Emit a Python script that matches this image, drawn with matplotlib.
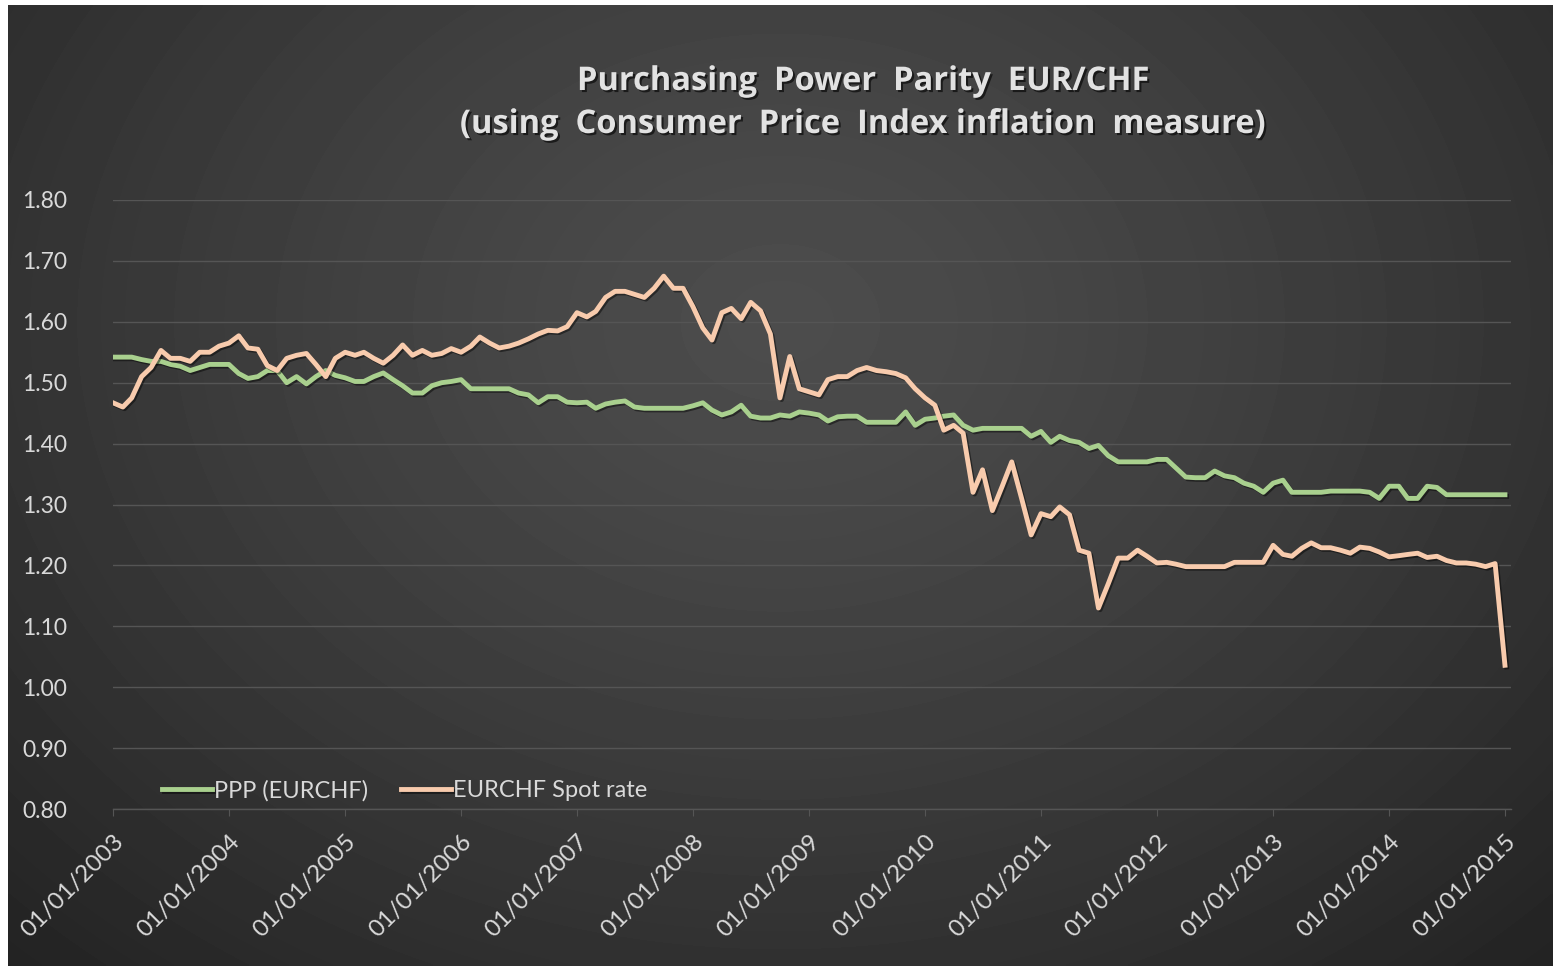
import matplotlib
matplotlib.use("Agg")
import matplotlib.pyplot as plt
import matplotlib.patheffects as pe
import matplotlib.dates as mdates
import numpy as np
import pandas as pd

# monthly values, 01/2003 .. 01/2015
ppp = [
    1.542, 1.542, 1.542, 1.538, 1.535, 1.535, 1.530, 1.527, 1.520, 1.525, 1.530, 1.530,  # 2003
    1.530, 1.515, 1.507, 1.510, 1.520, 1.520, 1.500, 1.510, 1.498, 1.510, 1.520, 1.512,  # 2004
    1.508, 1.502, 1.502, 1.510, 1.516, 1.505, 1.495, 1.483, 1.483, 1.495, 1.500, 1.502,  # 2005
    1.505, 1.490, 1.490, 1.490, 1.490, 1.490, 1.483, 1.480, 1.467, 1.477, 1.477, 1.468,  # 2006
    1.467, 1.468, 1.458, 1.465, 1.468, 1.470, 1.460, 1.458, 1.458, 1.458, 1.458, 1.458,  # 2007
    1.462, 1.467, 1.455, 1.447, 1.452, 1.463, 1.445, 1.442, 1.442, 1.447, 1.445, 1.452,  # 2008
    1.450, 1.447, 1.437, 1.444, 1.445, 1.445, 1.435, 1.435, 1.435, 1.435, 1.452, 1.430,  # 2009
    1.440, 1.442, 1.445, 1.447, 1.430, 1.422, 1.425, 1.425, 1.425, 1.425, 1.425, 1.412,  # 2010
    1.420, 1.402, 1.412, 1.405, 1.402, 1.392, 1.397, 1.380, 1.370, 1.370, 1.370, 1.370,  # 2011
    1.374, 1.374, 1.360, 1.345, 1.344, 1.344, 1.355, 1.347, 1.344, 1.335, 1.330, 1.320,  # 2012
    1.335, 1.340, 1.320, 1.320, 1.320, 1.320, 1.322, 1.322, 1.322, 1.322, 1.320, 1.310,  # 2013
    1.330, 1.330, 1.310, 1.310, 1.330, 1.328, 1.316, 1.316, 1.316, 1.316, 1.316, 1.316,  # 2014
    1.316,                                                                               # 2015
]

spot = [
    1.467, 1.460, 1.475, 1.510, 1.525, 1.553, 1.540, 1.540, 1.535, 1.550, 1.550, 1.560,  # 2003
    1.565, 1.577, 1.557, 1.555, 1.528, 1.520, 1.540, 1.545, 1.548, 1.530, 1.510, 1.540,  # 2004
    1.550, 1.545, 1.550, 1.540, 1.532, 1.545, 1.562, 1.545, 1.553, 1.545, 1.548, 1.556,  # 2005
    1.550, 1.560, 1.575, 1.565, 1.557, 1.560, 1.565, 1.572, 1.580, 1.586, 1.585, 1.592,  # 2006
    1.615, 1.608, 1.617, 1.640, 1.650, 1.650, 1.645, 1.640, 1.655, 1.675, 1.655, 1.655,  # 2007
    1.625, 1.590, 1.570, 1.615, 1.622, 1.605, 1.632, 1.618, 1.580, 1.475, 1.543, 1.490,  # 2008
    1.485, 1.480, 1.505, 1.510, 1.510, 1.520, 1.525, 1.520, 1.518, 1.515, 1.508, 1.490,  # 2009
    1.475, 1.463, 1.422, 1.430, 1.417, 1.320, 1.357, 1.290, 1.330, 1.370, 1.310, 1.250,  # 2010
    1.285, 1.280, 1.296, 1.283, 1.225, 1.220, 1.130, 1.170, 1.212, 1.212, 1.225, 1.215,  # 2011
    1.204, 1.205, 1.202, 1.198, 1.198, 1.198, 1.198, 1.198, 1.205, 1.205, 1.205, 1.205,  # 2012
    1.233, 1.218, 1.215, 1.228, 1.237, 1.229, 1.229, 1.225, 1.220, 1.230, 1.228, 1.222,  # 2013
    1.214, 1.216, 1.218, 1.220, 1.213, 1.215, 1.208, 1.204, 1.204, 1.202, 1.198, 1.203,  # 2014
    1.036,                                                                               # 2015
]

dates = pd.date_range("2003-01-01", periods=len(spot), freq="MS")
year_ticks = pd.date_range("2003-01-01", "2015-01-01", freq="YS")
y_ticks = [0.80, 0.90, 1.00, 1.10, 1.20, 1.30, 1.40, 1.50, 1.60, 1.70, 1.80]

green = "#a9d08e"
peach = "#f8cbad"
txt = "#d9d9d9"
grid = "#555555"

fig = plt.figure(figsize=(15.53, 9.66), dpi=100, facecolor="white")

# background panel with a soft radial gradient
bg = fig.add_axes([8 / 1553, 0, 1 - 8 / 1553, 1 - 5 / 966])
bg.set_axis_off()
yy, xx = np.mgrid[0:1:300j, 0:1:480j]
d = np.sqrt(((xx - 0.5) / 0.75) ** 2 + ((yy - 0.33) / 0.95) ** 2)
shade = 0.30 - 0.17 * np.clip(d, 0, 1) ** 1.3
bg.imshow(shade, cmap="gray", vmin=0, vmax=1, aspect="auto",
          extent=[0, 1, 1, 0], interpolation="bilinear")

ax = fig.add_axes([113 / 1553, 1 - 809 / 966, 1398 / 1553, 609 / 966])
ax.patch.set_alpha(0)

shadow = [pe.SimpleLineShadow(offset=(1.2, -1.2), shadow_color="black", alpha=0.45), pe.Normal()]
ax.plot(dates, ppp, color=green, lw=3.5, label="PPP (EURCHF)", path_effects=shadow,
        solid_joinstyle="round")
ax.plot(dates, spot, color=peach, lw=3.5, label="EURCHF Spot rate", path_effects=shadow,
        solid_joinstyle="round")

ax.set_ylim(0.80, 1.80)
ax.set_xlim(pd.Timestamp("2003-01-01"), pd.Timestamp("2015-01-20"))
ax.set_yticks(y_ticks)
ax.set_yticklabels(["%.2f" % v for v in y_ticks])
ax.set_xticks(year_ticks)
ax.xaxis.set_major_formatter(mdates.DateFormatter("%d/%m/%Y"))

ax.grid(axis="y", color=grid, lw=1)
ax.set_axisbelow(True)
for s in ["top", "right", "left"]:
    ax.spines[s].set_visible(False)
ax.spines["bottom"].set_color(grid)
ax.spines["bottom"].set_linewidth(1)

ax.tick_params(axis="y", length=0, pad=33, labelsize=16.5, labelcolor=txt)
ax.tick_params(axis="x", length=5, color=grid, pad=11, labelsize=17.5, labelcolor=txt)
for lab in ax.get_yticklabels():
    lab.set_fontfamily("Lato")
for lab in ax.get_xticklabels():
    lab.set_fontfamily("Lato")
    lab.set_rotation(45)
    lab.set_ha("right")
    lab.set_va("top")
    lab.set_rotation_mode("anchor")

leg = ax.legend(loc="lower left", bbox_to_anchor=(0.02, -0.022), ncol=2, frameon=False,
                handlelength=2.1, handletextpad=0.1, columnspacing=1.4,
                prop={"family": "Lato", "size": 17})
for t in leg.get_texts():
    t.set_color(txt)
for h in leg.get_lines():
    h.set_linewidth(3.5)

fig.text(863 / 1553, 1 - 103 / 966,
         "Purchasing  Power  Parity  EUR/CHF\n(using  Consumer  Price  Index inflation  measure)",
         ha="center", va="center", fontsize=23.5, fontweight="bold", family="Open Sans",
         color="#e2e2e2", linespacing=1.4,
         path_effects=[pe.withSimplePatchShadow(offset=(1.5, -1.5), shadow_rgbFace="black", alpha=0.6)])

fig.savefig("out.png", dpi=100, facecolor=fig.get_facecolor())
